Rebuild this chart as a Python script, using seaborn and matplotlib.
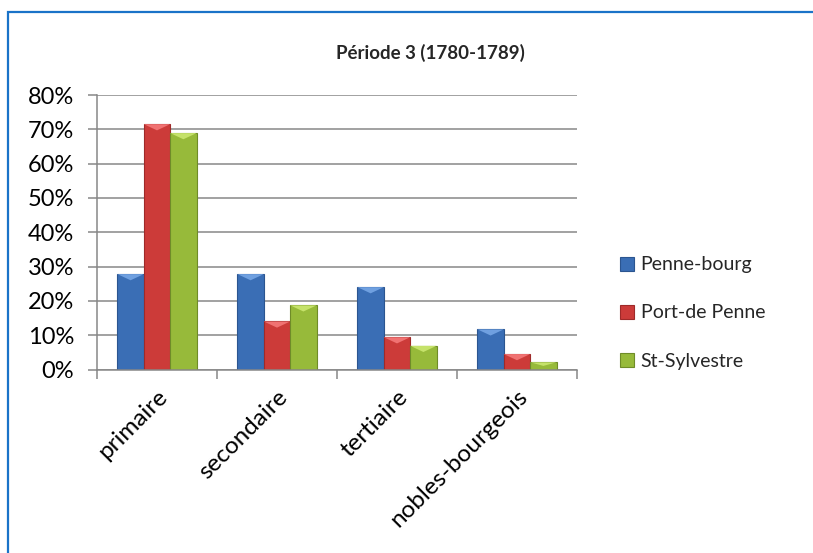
import matplotlib
matplotlib.use("Agg")
import matplotlib.pyplot as plt
from matplotlib.patches import Rectangle, Polygon
from matplotlib.ticker import PercentFormatter, FixedLocator, NullFormatter
import seaborn as sns
import pandas as pd

categories = ["primaire", "secondaire", "tertiaire", "nobles-bourgeois"]
series = ["Penne-bourg", "Port-de Penne", "St-Sylvestre"]
penne_bourg = [0.278, 0.278, 0.240, 0.117]
port_de_penne = [0.715, 0.140, 0.094, 0.045]
st_sylvestre = [0.689, 0.187, 0.069, 0.021]
y_ticks = [0.0, 0.1, 0.2, 0.3, 0.4, 0.5, 0.6, 0.7, 0.8]
title = "Période 3 (1780-1789)"

colors = ["#3A6EB5", "#CC3B39", "#97BA3A"]
edges = ["#2B5590", "#9E2A29", "#6F8C28"]
tops = ["#6FA0E0", "#F07272", "#C5E26A"]

df = pd.DataFrame({
    "categorie": categories * 3,
    "valeur": penne_bourg + port_de_penne + st_sylvestre,
    "serie": [s for s in series for _ in categories],
})

sns.set_theme(style="white")
plt.rcParams["font.family"] = ["Lato", "DejaVu Sans"]

fig = plt.figure(figsize=(8.13, 5.53), dpi=100)
ax = fig.add_axes([97 / 813, 1 - 369.5 / 553, 480 / 813, (369.5 - 95) / 553])

sns.barplot(data=df, x="categorie", y="valeur", hue="serie", order=categories,
            hue_order=series, palette=colors, width=0.66, gap=0.0,
            saturation=1, ax=ax, legend=False)

# colour each series' edges and add a bevel highlight on the bar tops
for i, container in enumerate(ax.containers):
    for bar in container:
        bar.set_edgecolor(edges[i])
        bar.set_linewidth(0.8)
        x0, y0 = bar.get_x(), bar.get_y()
        w, h = bar.get_width(), bar.get_height()
        bev = min(0.018, h * 0.5)
        tri = Polygon([(x0, y0 + h), (x0 + w, y0 + h), (x0 + w / 2, y0 + h - bev)],
                      closed=True, facecolor=tops[i], edgecolor="none", zorder=3)
        ax.add_patch(tri)

ax.set_ylim(0, 0.8)
ax.set_xlim(-0.5, len(categories) - 0.5)
ax.set_yticks(y_ticks)
ax.yaxis.set_major_formatter(PercentFormatter(1.0, decimals=0))
ax.grid(axis="y", color="#878787", linewidth=1.1)
ax.set_axisbelow(True)
ax.set_xlabel("")
ax.set_ylabel("")

for s in ["top", "right"]:
    ax.spines[s].set_visible(False)
for s in ["left", "bottom"]:
    ax.spines[s].set_color("#878787")
    ax.spines[s].set_linewidth(1.1)

ax.tick_params(axis="y", which="major", direction="out", length=6.5, width=1.1,
               color="#878787", left=True, labelsize=17, pad=10, labelcolor="black")
ax.tick_params(axis="x", which="major", length=0, labelsize=17.5, pad=12, labelcolor="black")
ax.xaxis.set_minor_locator(FixedLocator([k - 0.5 for k in range(len(categories) + 1)]))
ax.xaxis.set_minor_formatter(NullFormatter())
ax.tick_params(axis="x", which="minor", direction="out", length=6.5, width=1.1,
               color="#878787", bottom=True)
for lab in ax.get_xticklabels():
    lab.set_rotation(45)
    lab.set_ha("right")
    lab.set_va("top")
    lab.set_rotation_mode("anchor")

fig.text(430 / 813, 1 - 53 / 553, title, ha="center", va="center",
         fontsize=13.5, fontweight="bold")

handles = [Rectangle((0, 0), 1, 1, facecolor=colors[i], edgecolor=edges[i], linewidth=0.8)
           for i in range(len(series))]
fig.legend(handles, series, loc="center left", bbox_to_anchor=(610 / 813, 1 - 313 / 553),
           frameon=False, fontsize=14, handlelength=0.72, handleheight=0.72,
           handletextpad=0.35, labelspacing=1.6, borderpad=0)

fig.add_artist(Rectangle((8 / 813, -0.1), 1.2, 1.1 - 12 / 553, transform=fig.transFigure,
                         fill=False, edgecolor="#1A73C8", linewidth=1.6))

fig.savefig("out.png", dpi=100, facecolor="white")
